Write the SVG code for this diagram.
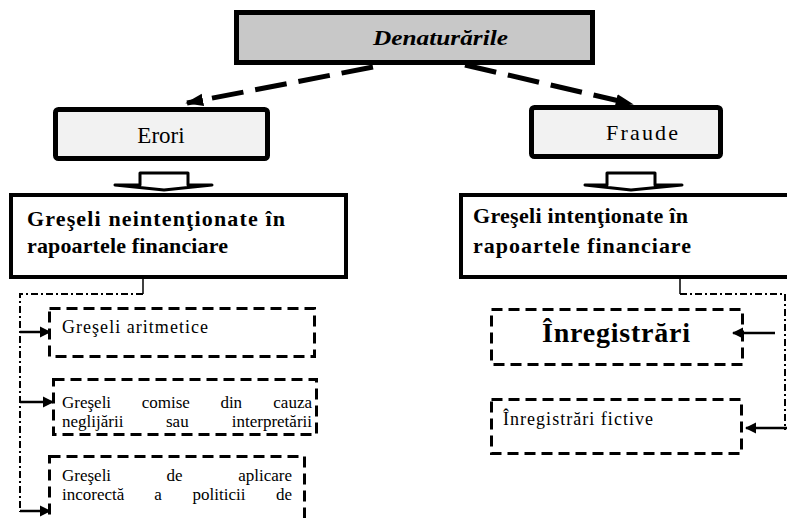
<svg xmlns="http://www.w3.org/2000/svg" width="787" height="518" viewBox="0 0 787 518" font-family="'Liberation Serif', 'DejaVu Serif', serif">
<style>
text{font-family:"Liberation Serif","DejaVu Serif",serif;fill:#000}
.box{stroke:#000;stroke-width:5}
.main{fill:#fff;stroke:#000;stroke-width:4}
.dbox{fill:#fff;stroke:#000;stroke-width:3;stroke-dasharray:11 6}
.dd{fill:none;stroke:#000;stroke-width:2;stroke-dasharray:7 3 2 3}
.arr{fill:none;stroke:#000;stroke-width:2.5}
.big{fill:none;stroke:#000;stroke-width:5;stroke-dasharray:32 12}
.blk{fill:#fff;stroke:#000;stroke-width:3;stroke-linejoin:round}
.e{text-anchor:end}
</style>
<defs>
<marker id="ah" viewBox="0 0 10 10" refX="9" refY="5" markerWidth="3.6" markerHeight="3.6" orient="auto" markerUnits="strokeWidth">
<path d="M0,1.5 L10,5 L0,8.5 Z" fill="#000"/>
</marker>
<marker id="ah2" viewBox="0 0 10 10" refX="9" refY="5" markerWidth="4.5" markerHeight="4.5" orient="auto" markerUnits="strokeWidth">
<path d="M0,0 L10,5 L0,10 Z" fill="#000"/>
</marker>
</defs>

<g id="denaturarile">
<rect class="box" x="236.5" y="12.5" width="356" height="50" fill="#c8c8c8"/>
<text x="373" y="45" font-size="22" font-style="italic" font-weight="bold" textLength="135" lengthAdjust="spacingAndGlyphs">Denaturările</text>
</g>

<g id="erori">
<rect class="box" x="55.5" y="109.5" width="212" height="49" rx="3" fill="#f2f2f2"/>
<text x="161" y="143" font-size="23" text-anchor="middle">Erori</text>
</g>

<g id="fraude">
<rect class="box" x="531.5" y="107.5" width="189" height="49" rx="3" fill="#f2f2f2"/>
<text x="606" y="140" font-size="22" textLength="72" lengthAdjust="spacing">Fraude</text>
</g>

<g id="neintentionate">
<rect class="main" x="11" y="195" width="335" height="82"/>
<text font-size="22" font-weight="bold">
<tspan x="27" y="226" textLength="258" lengthAdjust="spacing">Greşeli neintenţionate în</tspan>
<tspan x="27" y="253" textLength="201" lengthAdjust="spacing">rapoartele financiare</tspan>
</text>
</g>

<g id="intentionate">
<rect class="main" x="461" y="195" width="335" height="82"/>
<text font-size="22" font-weight="bold">
<tspan x="473" y="223" textLength="215" lengthAdjust="spacing">Greşeli intenţionate în</tspan>
<tspan x="473" y="253" textLength="218" lengthAdjust="spacing">rapoartele financiare</tspan>
</text>
</g>

<g id="aritmetice">
<rect class="dbox" x="49.5" y="308.5" width="265" height="48"/>
<text x="62" y="333" font-size="18" textLength="146" lengthAdjust="spacing">Greşeli aritmetice</text>
</g>

<g id="neglijare">
<rect class="dbox" x="53.5" y="379.5" width="263" height="55"/>
<text font-size="17" y="408"><tspan x="62">Greşeli</tspan> <tspan x="141.7">comise</tspan> <tspan x="220.4">din</tspan> <tspan x="312" class="e">cauza</tspan></text>
<text font-size="17" y="427"><tspan x="62">neglijării</tspan> <tspan x="166">sau</tspan> <tspan x="312" class="e">interpretării</tspan></text>
</g>

<g id="aplicare">
<rect class="dbox" x="49.5" y="456.5" width="255" height="80"/>
<text font-size="17" y="481"><tspan x="62">Greşeli</tspan> <tspan x="166.5">de</tspan> <tspan x="292" class="e">aplicare</tspan></text>
<text font-size="17" y="500"><tspan x="62">incorectă</tspan> <tspan x="154.3">a</tspan> <tspan x="192.6">politicii</tspan> <tspan x="292" class="e">de</tspan></text>
</g>

<g id="inregistrari">
<rect class="dbox" x="491.5" y="309.5" width="251" height="55"/>
<text x="542" y="342" font-size="28" font-weight="bold" textLength="148" lengthAdjust="spacing">Înregistrări</text>
</g>

<g id="fictive">
<rect class="dbox" x="491.5" y="399.5" width="250" height="54"/>
<text x="503" y="425" font-size="18" textLength="150" lengthAdjust="spacing">Înregistrări fictive</text>
</g>

<g id="connectors">
<line class="big" x1="373" y1="67" x2="187" y2="103" marker-end="url(#ah)"/>
<line class="big" x1="465" y1="65" x2="632" y2="104" marker-end="url(#ah)"/>
<path class="blk" d="M140,185 L140,173 L188,173 L188,185 L212,185 L164,190 L115,185 Z"/>
<path class="blk" d="M607,185 L607,173 L655,173 L655,185 L682,185 L631,190 L585,185 Z"/>
<line x1="143" y1="279" x2="143" y2="294" stroke="#000" stroke-width="1.5"/>
<path class="dd" d="M143,294 H20 V512"/>
<line class="arr" x1="20" y1="332" x2="50" y2="332" marker-end="url(#ah2)"/>
<line class="arr" x1="20" y1="402" x2="53" y2="402" marker-end="url(#ah2)"/>
<line class="arr" x1="20" y1="511" x2="50" y2="511" marker-end="url(#ah2)"/>
<line x1="680" y1="279" x2="680" y2="294" stroke="#000" stroke-width="1.5"/>
<path class="dd" d="M680,294 H785 V430"/>
<line class="arr" x1="775" y1="333" x2="733" y2="333" marker-end="url(#ah2)"/>
<line class="arr" x1="787" y1="428" x2="746" y2="428" marker-end="url(#ah2)"/>
</g>
</svg>
